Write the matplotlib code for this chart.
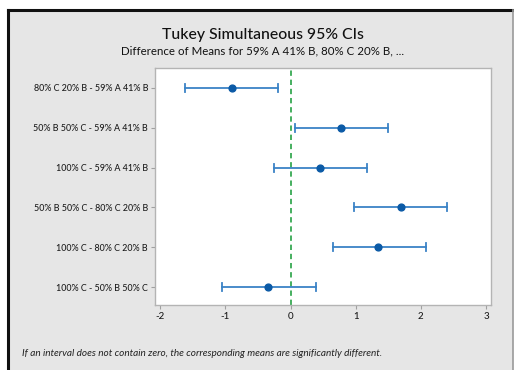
import matplotlib
matplotlib.use('Agg')
import matplotlib.pyplot as plt
from matplotlib.patches import Rectangle

# ===== DADOS =====
comparacoes = [
    '80% C 20% B - 59% A 41% B',
    '50% B 50% C - 59% A 41% B',
    '100% C - 59% A 41% B',
    '50% B 50% C - 80% C 20% B',
    '100% C - 80% C 20% B',
    '100% C - 50% B 50% C',
]
diferenca = [-0.90, 0.78, 0.45, 1.69, 1.35, -0.34]
limite_inf = [-1.62, 0.07, -0.26, 0.98, 0.65, -1.05]
limite_sup = [-0.19, 1.50, 1.17, 2.40, 2.08, 0.39]
ticks_x = [-2, -1, 0, 1, 2, 3]

plt.rcParams['font.family'] = ['Lato', 'DejaVu Sans']

fig = plt.figure(figsize=(5.14, 3.70), dpi=100)
fig.patch.set_facecolor('white')

# painel cinza com borda escura
W, H = 514, 370
fig.patches.append(Rectangle((8 / W, 0), 505 / W, (H - 10) / H, transform=fig.transFigure,
                             facecolor='#e6e6e6', edgecolor='none', zorder=-1))
fig.add_artist(plt.Line2D([8 / W, 8 / W], [0, (H - 10) / H], transform=fig.transFigure,
                          color='#111111', lw=2.2))
fig.add_artist(plt.Line2D([8 / W, 513 / W], [(H - 10) / H, (H - 10) / H], transform=fig.transFigure,
                          color='#111111', lw=2.2))
fig.add_artist(plt.Line2D([512.5 / W, 512.5 / W], [0, (H - 10) / H], transform=fig.transFigure,
                          color='#9a9a9a', lw=1.2))

ax = fig.add_axes([155 / W, (H - 305) / H, 336 / W, 237 / H])
ax.set_zorder(2)
ax.set_facecolor('white')

pos = list(range(len(comparacoes)))
for i in pos:
    ax.plot([limite_inf[i], limite_sup[i]], [i, i], color='#3a82c6', lw=1.3, zorder=2)
    for x in (limite_inf[i], limite_sup[i]):
        ax.plot([x, x], [i - 0.1, i + 0.1], color='#3a82c6', lw=1.3, zorder=2)
ax.scatter(diferenca, pos, s=24, color='#0b5aa6', zorder=3)

ax.axvline(0, color='#139a34', lw=1.1, linestyle=(0, (3.5, 2.5)), zorder=1)

ax.set_xlim(-2.08, 3.077)
ax.set_ylim(5.45, -0.5)
ax.set_xticks(ticks_x)
ax.set_xticklabels(['-2', '-1', '0', '1', '2', '3'], fontsize=7, fontweight='medium', color='#1a1a1a')
ax.set_yticks(pos)
ax.set_yticklabels(comparacoes, fontsize=6.4, fontweight='medium', color='#1a1a1a')
ax.tick_params(axis='both', length=3, width=0.8, color='#a0a0a0', pad=2)
for s in ax.spines.values():
    s.set_color('#b4b4b4')
    s.set_linewidth(1.0)

fig.text(263 / W, 1 - 35 / H, 'Tukey Simultaneous 95% CIs', ha='center', va='center',
         fontsize=11.3, fontweight='medium', color='#111111')
fig.text(263 / W, 1 - 51 / H, 'Difference of Means for 59% A 41% B, 80% C 20% B, ...',
         ha='center', va='center', fontsize=8.3, color='#111111')
fig.text(22 / W, 1 - 353 / H,
         'If an interval does not contain zero, the corresponding means are significantly different.',
         ha='left', va='center', fontsize=7.2, style='italic', color='#222222')

fig.savefig('out.png', dpi=100)
